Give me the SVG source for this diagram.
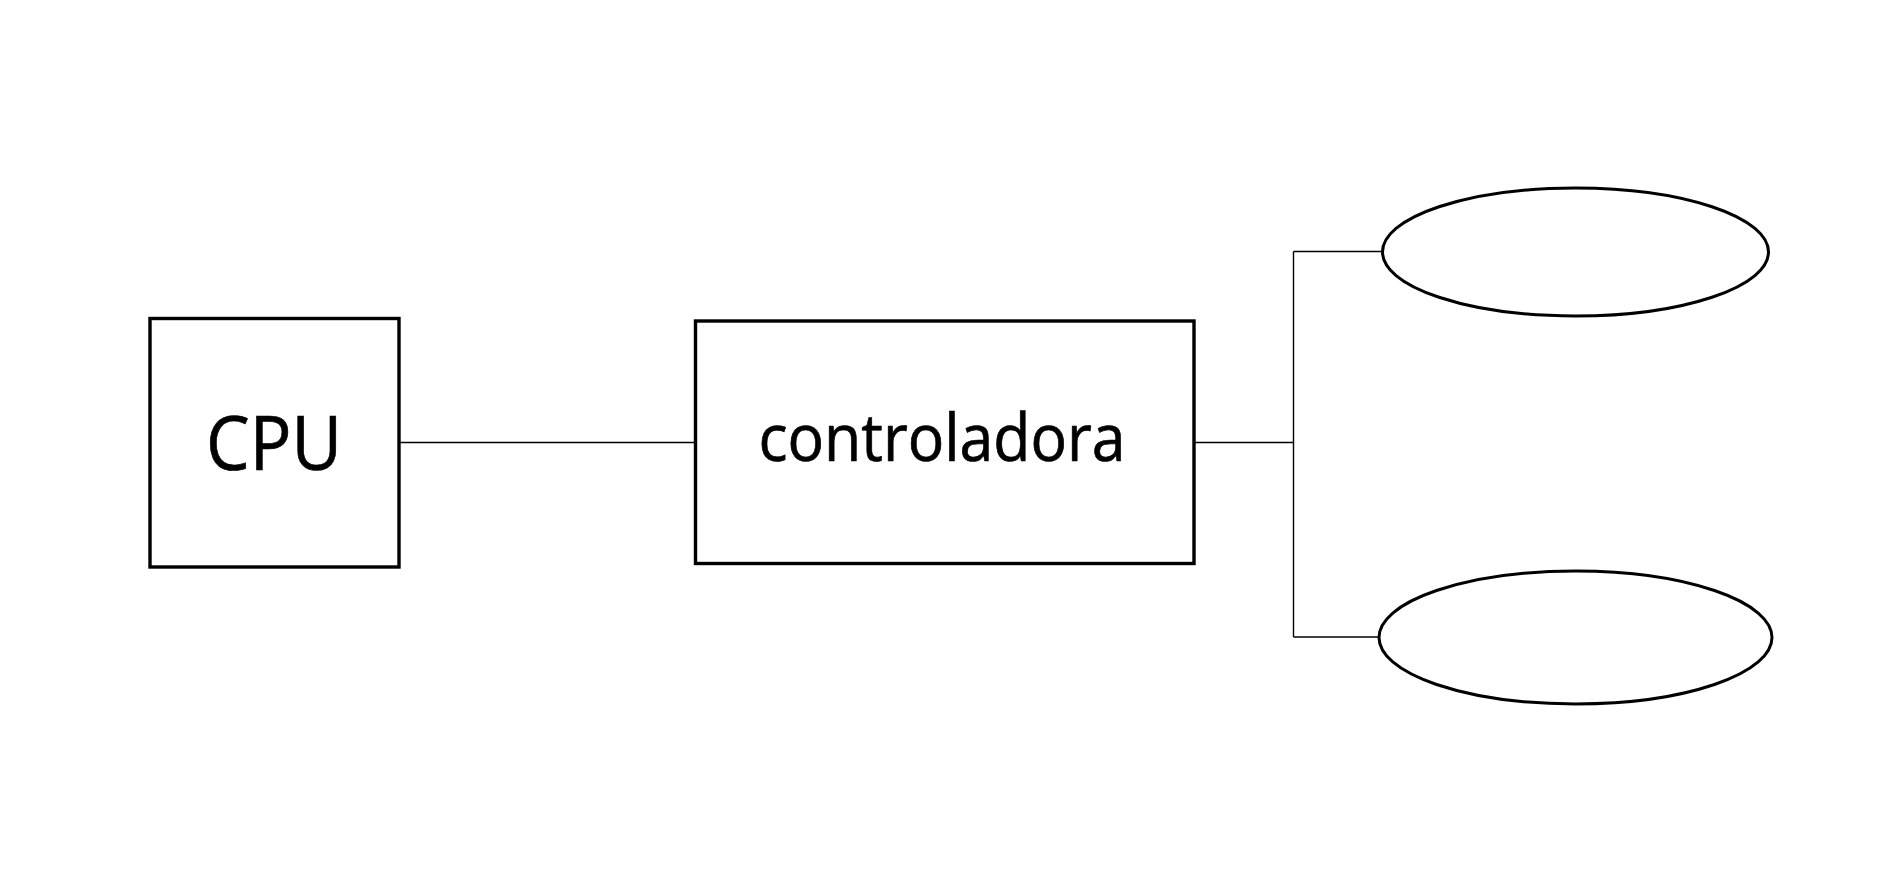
<svg xmlns="http://www.w3.org/2000/svg" width="1890" height="886" viewBox="0 0 1890 886">
<style>
.box{fill:#fff;stroke:#000;stroke-width:3.4}
.ell{fill:#fff;stroke:#000;stroke-width:3}
.conn{stroke:#000;stroke-width:1.4;fill:none}
.lbl{font-family:"Open Sans","Noto Sans",sans-serif;fill:#000;stroke:#000;stroke-width:0.7;text-anchor:middle}
</style>
<rect width="1890" height="886" fill="#fff"/>
<g id="connectors">
<line class="conn" x1="399" y1="442.5" x2="698" y2="442.5"/>
<line class="conn" x1="1190" y1="442.5" x2="1293.5" y2="442.5"/>
<line class="conn" x1="1293.5" y1="251.5" x2="1293.5" y2="637"/>
<line class="conn" x1="1293.5" y1="251.5" x2="1383" y2="251.5"/>
<line class="conn" x1="1293.5" y1="637" x2="1379" y2="637"/>
</g>
<g id="cpu">
<rect class="box" x="150" y="318.5" width="249" height="248.5"/>
<text class="lbl" x="274" y="470" font-size="75" textLength="136" lengthAdjust="spacingAndGlyphs">CPU</text>
</g>
<g id="controladora">
<rect class="box" x="695.5" y="321" width="498.5" height="242.5"/>
<text class="lbl" x="942" y="460.5" font-size="66" textLength="367" lengthAdjust="spacingAndGlyphs">controladora</text>
</g>
<g id="disk1">
<ellipse class="ell" cx="1575.5" cy="252" rx="193" ry="64"/>
</g>
<g id="disk2">
<ellipse class="ell" cx="1575.5" cy="637.5" rx="196.5" ry="66.5"/>
</g>
</svg>
